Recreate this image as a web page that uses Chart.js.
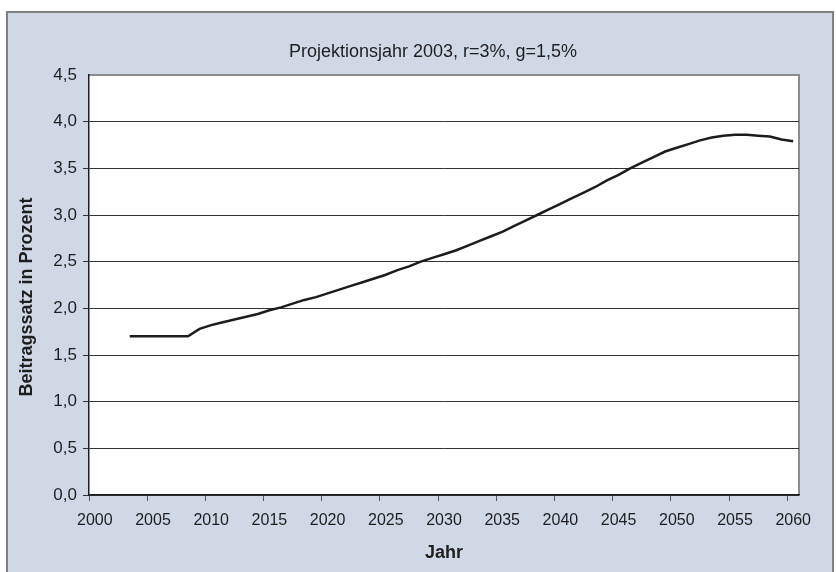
<!DOCTYPE html>
<html>
<head>
<meta charset="utf-8">
<script src="https://cdn.jsdelivr.net/npm/chart.js@4/dist/chart.umd.min.js"></script>
<style>
    body { margin: 0; background: #fff; }
    #frame {
        position: absolute; left: 6px; top: 11px;
        width: 828px; height: 600px; box-sizing: border-box;
        border: 2px solid #808080; background: #d0d8e6;
    }
    #wrap { position: absolute; left: 0; top: 0; width: 836px; height: 572px; }
</style>
</head>
<body>
<div id="frame"></div>
<div id="wrap"><canvas id="beitrag-chart" width="836" height="572"></canvas></div>
<script>
const years = [];
for (let y = 2000; y <= 2060; y++) years.push(String(y));

// Beitragssatz in Prozent, 2000-2060 (keine Werte vor 2003)
const beitragssatz = [
    null, null, null,
    1.70, 1.70, 1.70, 1.70, 1.70, 1.70, 1.78, 1.82,
    1.85, 1.88, 1.91, 1.94, 1.98, 2.01, 2.05, 2.09, 2.12, 2.16,
    2.20, 2.24, 2.28, 2.32, 2.36, 2.41, 2.45, 2.50, 2.54, 2.58,
    2.62, 2.67, 2.72, 2.77, 2.82, 2.88, 2.94, 3.00, 3.06, 3.12,
    3.18, 3.24, 3.30, 3.37, 3.43, 3.50, 3.56, 3.62, 3.68, 3.72,
    3.76, 3.80, 3.83, 3.85, 3.86, 3.86, 3.85, 3.84, 3.81, 3.79
];

const chartTitle = 'Projektionsjahr 2003, r=3%, g=1,5%';
const yTitle = 'Beitragssatz in Prozent';
const xTitle = 'Jahr';

const plotBox = {
    id: 'plotBox',
    beforeDraw(chart) {
        const { ctx, chartArea: a } = chart;
        ctx.save();
        ctx.fillStyle = '#ffffff';
        ctx.fillRect(a.left, a.top, a.right - a.left, a.bottom - a.top);
        ctx.strokeStyle = '#8c8c8c';
        ctx.lineWidth = 2;
        ctx.beginPath();
        ctx.moveTo(a.left, a.top);
        ctx.lineTo(a.right, a.top);
        ctx.lineTo(a.right, a.bottom);
        ctx.stroke();
        ctx.restore();
    },
    afterDraw(chart) {
        const ctx = chart.ctx;
        ctx.save();
        ctx.fillStyle = '#1e1e1e';
        ctx.textAlign = 'center';
        ctx.textBaseline = 'middle';
        ctx.font = '18px "Liberation Sans", Arial, sans-serif';
        ctx.fillText(chartTitle, 433, 52);
        ctx.font = 'bold 18px "Liberation Sans", Arial, sans-serif';
        ctx.fillText(xTitle, 444, 553);
        ctx.translate(27, 297);
        ctx.rotate(-Math.PI / 2);
        ctx.fillText(yTitle, 0, 0);
        ctx.restore();
    }
};

const config = {
    type: 'line',
    data: {
        labels: years,
        datasets: [{
            label: 'Beitragssatz',
            data: beitragssatz,
            borderColor: '#1c1c1c',
            borderWidth: 2.5,
            pointRadius: 0,
            tension: 0,
            fill: false
        }]
    },
    options: {
        responsive: false,
        animation: false,
        layout: {
            padding: { left: 0, right: 37, top: 75, bottom: 0 }
        },
        plugins: {
            legend: { display: false },
            tooltip: { enabled: false }
        },
        scales: {
            x: {
                type: 'category',
                offset: true,
                afterFit: s => { s.height = 77; },
                border: { color: '#1e1e1e', width: 1.5 },
                grid: {
                    offset: true,
                    drawOnChartArea: false,
                    drawTicks: true,
                    tickLength: 6,
                    color: ctx => (ctx.index !== undefined && ctx.index % 5 === 0) ? '#555555' : 'rgba(0,0,0,0)'
                },
                ticks: {
                    autoSkip: false,
                    maxRotation: 0,
                    padding: 10,
                    color: '#1e1e1e',
                    font: { family: '"Liberation Sans", Arial, sans-serif', size: 16 },
                    callback: function (v, i) {
                        const y = Number(this.getLabelForValue(v));
                        return y % 5 === 0 ? String(y) : '';
                    }
                }
            },
            y: {
                min: 0,
                max: 4.5,
                afterFit: s => { s.width = 89; },
                border: { color: '#1e1e1e', width: 1.5 },
                grid: {
                    color: ctx => (ctx.tick && ctx.tick.value === 4.5) ? 'rgba(0,0,0,0)' : '#333333',
                    tickLength: 6,
                    lineWidth: 1
                },
                ticks: {
                    stepSize: 0.5,
                    padding: 6,
                    color: '#1e1e1e',
                    font: { family: '"Liberation Sans", Arial, sans-serif', size: 17 },
                    callback: v => v.toFixed(1).replace('.', ',')
                }
            }
        }
    },
    plugins: [plotBox]
};

var beitragChart = new Chart(
    document.getElementById('beitrag-chart'),
    config
);
</script>
</body>
</html>
